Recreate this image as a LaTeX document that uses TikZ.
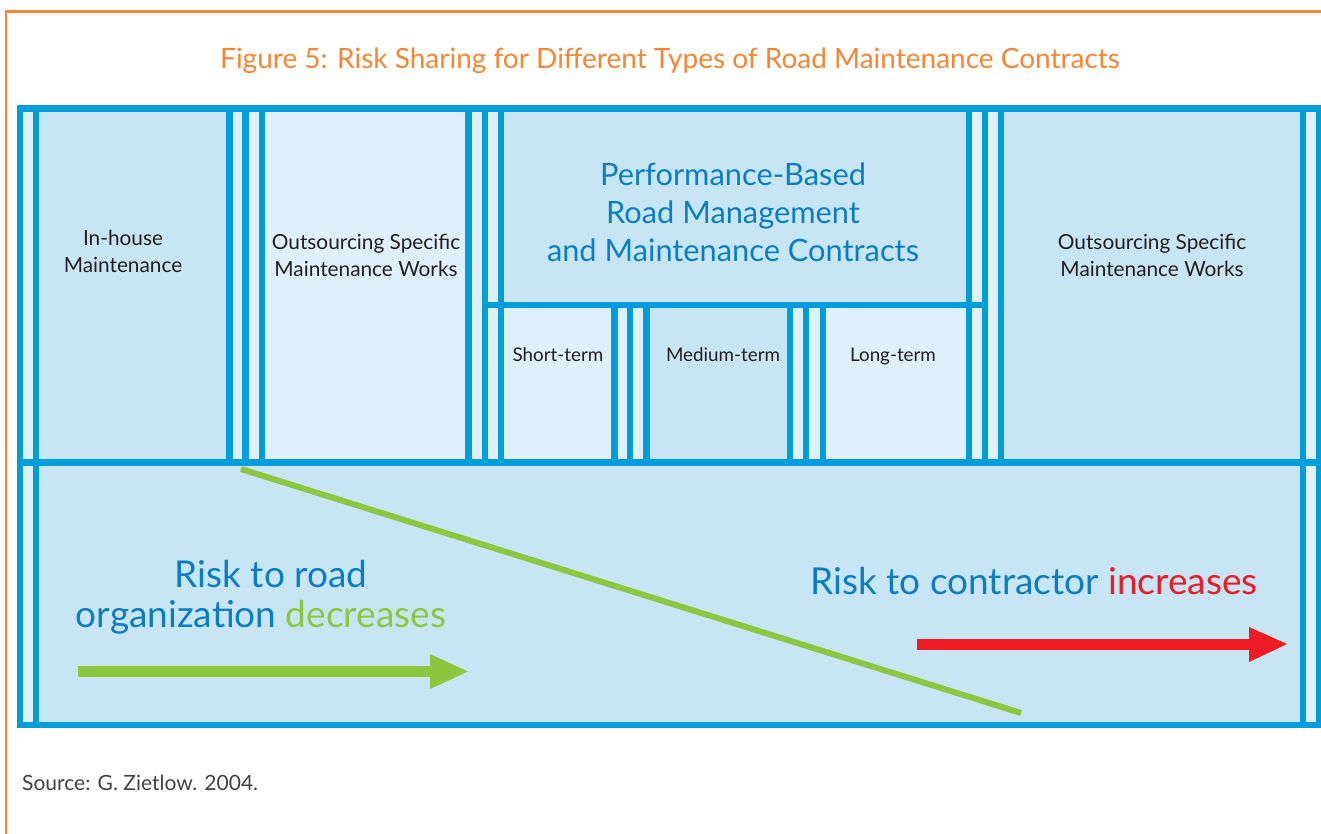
\documentclass[tikz,border=0pt]{standalone}
\usepackage{fontspec}
\setmainfont{Lato}
\definecolor{orangec}{HTML}{F58634}
\definecolor{bluel}{HTML}{009DDB}
\definecolor{medc}{HTML}{C8E5F5}
\definecolor{lightc}{HTML}{DFF0FA}
\definecolor{darktxt}{HTML}{231F20}
\definecolor{bluetxt}{HTML}{0B7EC1}
\definecolor{greenc}{HTML}{8DC63F}
\definecolor{redc}{HTML}{ED1C24}
\tikzset{
  gridline/.style={draw=bluel, line width=6.5pt},
  boxlabel/.style={text=darktxt, align=center, inner sep=0pt, anchor=base, font=\fontsize{20.8}{27}\selectfont},
  sublabel/.style={text=darktxt, inner sep=0pt, anchor=base, font=\fontsize{18.8}{20}\selectfont},
  bigblue/.style={text=bluetxt, align=center, inner sep=0pt, anchor=base, font=\fontsize{30.8}{38}\selectfont},
  risktext/.style={text=bluetxt, inner sep=0pt, anchor=base, font=\fontsize{37}{40}\selectfont}
}
\begin{document}
\begin{tikzpicture}[x=1pt,y=-1pt]
\useasboundingbox (0,0) rectangle (1321,833);
\clip (0,0) rectangle (1321,833);
\fill[white] (0,0) rectangle (1321,833);
% orange frame
\draw[orangec, line width=2.5pt] (6,900) -- (6,11.5) -- (1400,11.5);
% title
\node[text=orangec, inner sep=0pt, anchor=base, font=\fontsize{28}{30}\selectfont] (title) at (670,68.5) {Figure 5: Risk Sharing for Different Types of Road Maintenance Contracts};
% fills
\fill[lightc] (20,108.5) rectangle (1319,725);
\fill[medc] (36,108.5) rectangle (229.5,462.5);
\fill[medc] (501,108.5) rectangle (969,305);
\fill[medc] (646.5,305) rectangle (790,462.5);
\fill[medc] (1001,108.5) rectangle (1303,462.5);
\fill[medc] (36,462.5) rectangle (1303,725);
% grid lines
\foreach \x in {20,36,1303,1319} \draw[gridline] (\x,108.5) -- (\x,725);
\foreach \x in {229.5,245.5,262,468.5,485,501,969,985,1001} \draw[gridline] (\x,108.5) -- (\x,462.5);
\foreach \x in {614.5,630,646.5,790,806,823} \draw[gridline] (\x,305) -- (\x,462.5);
\draw[gridline] (17,108.5) -- (1324,108.5);
\draw[gridline] (17,462.5) -- (1324,462.5);
\draw[gridline] (17,725) -- (1324,725);
\draw[gridline] (482,305) -- (988,305);
% box labels (anchor = baseline of last line)
\node[boxlabel] (inhouse) at (123,272.5) {In-house\\Maintenance};
\node[boxlabel] (outs1) at (366,276.5) {Outsourcing Specific\\Maintenance Works};
\node[bigblue] (pbrmc) at (733,261) {Performance-Based\\Road Management\\and Maintenance Contracts};
\node[sublabel] (short) at (558,361) {Short-term};
\node[sublabel] (medium) at (723,361) {Medium-term};
\node[sublabel] (long) at (893,361) {Long-term};
\node[boxlabel] (outs2) at (1152,276.5) {Outsourcing Specific\\Maintenance Works};
% diagonal
\coordinate (dA) at (241,469);
\coordinate (dB) at (1021,713);
\draw[greenc, line width=6pt] (dA) -- (dB);
% risk texts
\node[risktext] (risk1) at (271,587) {Risk to road};
\node[risktext] (risk2) at (261,627) {organization \textcolor{greenc}{decreases}};
\node[risktext] (risk3) at (1034,594) {Risk to contractor \textcolor{redc}{increases}};
% arrows
\fill[greenc] (78,666) rectangle (431,677);
\fill[greenc] (430,654) -- (468,671.5) -- (430,689) -- cycle;
\fill[redc] (917,638.5) rectangle (1250,650);
\fill[redc] (1249,627) -- (1287,644) -- (1249,662) -- cycle;
% source
\node[text=darktxt!85, anchor=base west, inner sep=0pt, font=\fontsize{21}{22}\selectfont] (src) at (22,790) {Source: G. Zietlow. 2004.};
\end{tikzpicture}
\end{document}
